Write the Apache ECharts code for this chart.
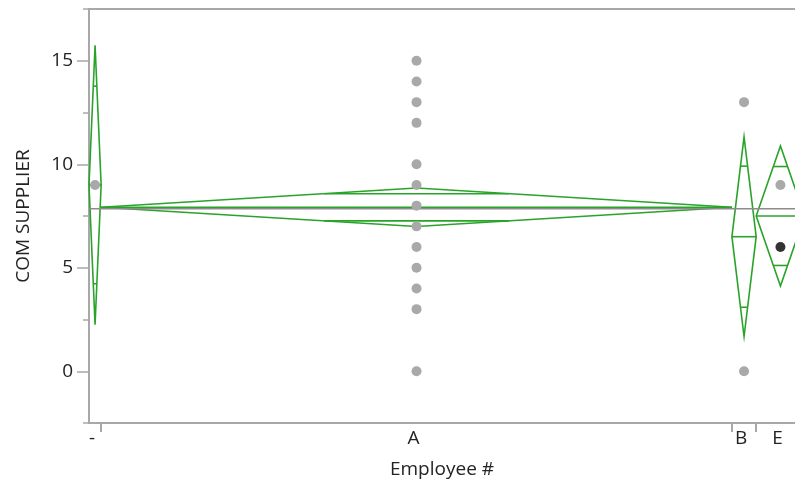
<!DOCTYPE html>
<html>
<head>
<meta charset="utf-8">
<script src="https://cdn.jsdelivr.net/npm/echarts@6/dist/echarts.min.js"></script>
<style>
  html, body { margin: 0; padding: 0; background: #fff; }
  #chart { width: 795px; height: 489px; }
</style>
</head>
<body>
<div id="chart"></div>
<script>
// Oneway analysis: COM SUPPLIER by Employee #, with means diamonds
const groups = ['-', 'A', 'B', 'E'];
const groupCounts = [1, 52, 2, 4];
const groupMeans = [9, 7.92, 6.5, 7.5];
const ciLower = [2.25, 6.99, 1.68, 4.12];
const ciUpper = [15.75, 8.85, 11.32, 10.88];
const grandMean = 7.85;

const pointsDash = [9];
const pointsA = [15, 14, 13, 12, 10, 9, 8, 7, 6, 5, 4, 3, 0];
const pointsB = [13, 0];
const pointsE = [9];
const selectedE = [6];

const yTickLabels = [0, 5, 10, 15];
const yMinorTicks = [-2.5, 2.5, 7.5, 12.5, 17.5];

const FONT = '"Segoe UI", "Open Sans", "Noto Sans", sans-serif';
const FONT_SIZE = 19;
const TEXT = '#232323';
const GREEN = '#2aa32a';
const AXIS_GREY = '#a8a8a8';

// group extents on the x scale (width proportional to group size)
const starts = [];
let acc = 0;
groupCounts.forEach(n => { starts.push(acc); acc += n; });
const ends = groupCounts.map((n, i) => starts[i] + n);
const centers = groupCounts.map((n, i) => starts[i] + n / 2);
const total = acc;

const diamondData = groups.map((g, i) => [starts[i], ends[i], groupMeans[i], ciLower[i], ciUpper[i]]);

const pointSets = [pointsDash, pointsA, pointsB, pointsE];
const scatterData = [];
pointSets.forEach((arr, i) => arr.forEach(v => scatterData.push([centers[i], v])));
const selectedData = selectedE.map(v => [centers[3], v]);

const chart = echarts.init(document.getElementById('chart'), null, { renderer: 'canvas' });

chart.setOption({
  animation: false,
  backgroundColor: '#fff',
  textStyle: { fontFamily: FONT },
  grid: { left: 89, right: 0, top: 9, bottom: 66, containLabel: false },
  xAxis: [{
    type: 'value',
    min: 0,
    max: 58.2,
    splitLine: { show: false },
    axisLine: { show: true, onZero: false, lineStyle: { color: AXIS_GREY, width: 2 } },
    axisTick: { show: true, length: 9, customValues: ends.slice(0, 3), lineStyle: { color: AXIS_GREY, width: 2 } },
    axisLabel: {
      customValues: centers,
      margin: 6,
      fontSize: FONT_SIZE,
      color: TEXT,
      fontFamily: FONT,
      padding: [0, 6, 0, 0],
      formatter: v => {
        const idx = centers.findIndex(c => Math.abs(c - v) < 1e-6);
        return idx >= 0 ? groups[idx] : '';
      }
    },
    name: 'Employee #',
    nameLocation: 'middle',
    nameGap: 37,
    nameTextStyle: { fontSize: FONT_SIZE, color: TEXT, fontFamily: FONT }
  }, {
    type: 'value',
    position: 'top',
    min: 0,
    max: 58.2,
    splitLine: { show: false },
    axisLine: { show: true, onZero: false, lineStyle: { color: AXIS_GREY, width: 2 } },
    axisTick: { show: false },
    axisLabel: { show: false }
  }],
  yAxis: [{
    type: 'value',
    min: -2.5,
    max: 17.5,
    interval: 2.5,
    splitLine: { show: false },
    axisLine: { show: true, onZero: false, lineStyle: { color: AXIS_GREY, width: 2 } },
    axisTick: { show: true, length: 12, customValues: yTickLabels, lineStyle: { color: AXIS_GREY, width: 1.5 } },
    axisLabel: {
      customValues: yTickLabels,
      margin: 16,
      fontSize: FONT_SIZE,
      color: TEXT,
      fontFamily: FONT
    },
    name: 'COM SUPPLIER',
    nameLocation: 'middle',
    nameGap: 56,
    nameRotate: 90,
    nameTextStyle: { fontSize: FONT_SIZE, color: TEXT, fontFamily: FONT }
  }, {
    type: 'value',
    position: 'left',
    min: -2.5,
    max: 17.5,
    interval: 2.5,
    splitLine: { show: false },
    axisLine: { show: false },
    axisTick: { show: true, length: 6, customValues: yMinorTicks, lineStyle: { color: AXIS_GREY, width: 1.5 } },
    axisLabel: { show: false }
  }],
  series: [
    {
      // means diamonds with mean line and overlap marks
      type: 'custom',
      xAxisIndex: 0,
      yAxisIndex: 0,
      z: 2,
      data: diamondData,
      renderItem: (params, api) => {
        const x0 = api.value(0), x1 = api.value(1);
        const m = api.value(2), lo = api.value(3), hi = api.value(4);
        const xc = (x0 + x1) / 2;
        const pL = api.coord([x0, m]);
        const pR = api.coord([x1, m]);
        const pT = api.coord([xc, hi]);
        const pB = api.coord([xc, lo]);
        const half = (hi - lo) / 2;
        const off = half / Math.SQRT2;
        const frac = 1 - 1 / Math.SQRT2;
        const halfW = (pR[0] - pL[0]) / 2 * frac;
        const style = { stroke: GREEN, lineWidth: 1.6, fill: null };
        const children = [
          { type: 'polygon', shape: { points: [pL, pT, pR, pB] }, style: style },
          { type: 'line', shape: { x1: pL[0], y1: pL[1], x2: pR[0], y2: pR[1] }, style: style }
        ];
        [m + off, m - off].forEach(v => {
          const p = api.coord([xc, v]);
          children.push({ type: 'line', shape: { x1: p[0] - halfW, y1: p[1], x2: p[0] + halfW, y2: p[1] }, style: style });
        });
        return { type: 'group', children: children };
      }
    },
    {
      // grand mean
      type: 'line',
      xAxisIndex: 0,
      yAxisIndex: 0,
      z: 3,
      symbol: 'none',
      silent: true,
      data: [[0, grandMean], [total, grandMean]],
      lineStyle: { color: '#8c8c8c', width: 1.5 }
    },
    {
      type: 'scatter',
      xAxisIndex: 0,
      yAxisIndex: 0,
      z: 4,
      symbolSize: 10,
      data: scatterData,
      itemStyle: { color: '#a9a9a9', opacity: 1 }
    },
    {
      type: 'scatter',
      xAxisIndex: 0,
      yAxisIndex: 0,
      z: 5,
      symbolSize: 10,
      data: selectedData,
      itemStyle: { color: '#000' }
    }
  ]
});
</script>
</body>
</html>
